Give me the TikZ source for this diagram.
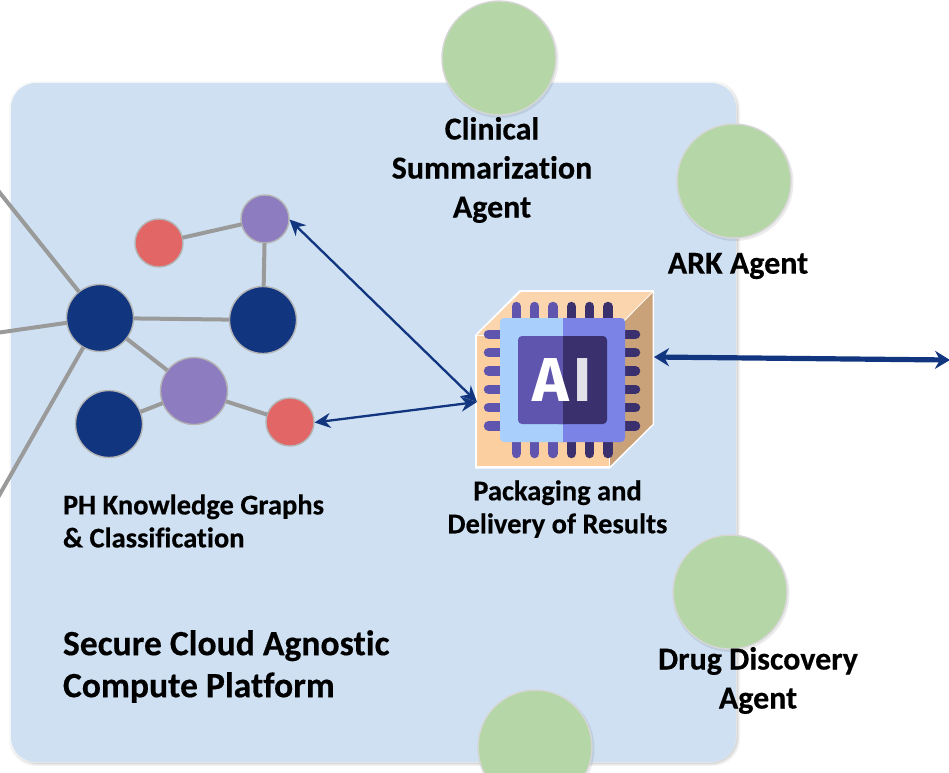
\documentclass[tikz,border=0pt]{standalone}
\usepackage{fontspec}
\setmainfont[Ligatures=NoCommon,FakeBold=0.4]{Carlito}
\newfontfamily\chipfont{Fira Sans}
\usetikzlibrary{arrows.meta,calc}
\definecolor{panelblue}{HTML}{CEE0F2}
\definecolor{agentgreen}{HTML}{B5D6A7}
\definecolor{navy}{HTML}{11357F}
\definecolor{edgegray}{HTML}{9A9A9A}
\definecolor{rimgray}{HTML}{B4B4B4}
\definecolor{lilac}{HTML}{8E7CC0}
\definecolor{coral}{HTML}{E26666}
\definecolor{pinlight}{HTML}{5F54AE}
\definecolor{pindark}{HTML}{3B306E}
\definecolor{bodylight}{HTML}{A9D0FC}
\definecolor{bodydark}{HTML}{7B83E6}
\definecolor{cubetop}{HTML}{FBD5AE}
\definecolor{cubeside}{HTML}{C9A27A}
\definecolor{cubefront}{HTML}{FBCFA0}
\tikzset{
  x=1pt,y=-1pt,
  every node/.style={inner sep=0pt,outer sep=0pt},
  agent/.style={circle,minimum size=114pt,fill=agentgreen,draw=rimgray!55,line width=1.4pt},
  graphbig/.style={circle,minimum size=67pt,draw=rimgray,line width=1.4pt},
  graphsmall/.style={circle,minimum size=48pt,draw=rimgray,line width=1.4pt},
  link/.style={draw=edgegray,line width=4pt},
  thinarrow/.style={draw=navy,line width=2.3pt,{Stealth[length=16pt,width=15pt]}-{Stealth[length=16pt,width=15pt]}},
  thickarrow/.style={draw=navy,line width=5.2pt,{Stealth[length=15pt,width=18pt]}-{Stealth[length=15pt,width=18pt]}},
  label/.style={font=\bfseries\fontsize{32}{39}\selectfont,align=center,text=black},
  smalllabel/.style={font=\bfseries\fontsize{28.5}{33}\selectfont},
  titlelabel/.style={font=\bfseries\fontsize{35.6}{42}\selectfont,align=left,text=black},
  pin/.style={line width=9.5pt,line cap=round},
}
\begin{document}
\begin{tikzpicture}
\useasboundingbox (0,0) rectangle (949,772);
\begin{scope}
\clip (0,0) rectangle (949,772);
% panel with soft rim
\foreach \o/\a in {4/0.04,3/0.05,2/0.07,1/0.09}{
  \fill[black,opacity=\a,rounded corners=27pt] (11-\o+2,83-\o+2) rectangle (736+\o,762+\o);
}
\fill[white,opacity=.55,rounded corners=27pt] (9,81) rectangle (737,763);
\node[fill=panelblue,rounded corners=25pt,minimum width=725pt,minimum height=679pt] (panel) at (373.5,422.5) {};

% agents
\foreach \cx/\cy in {499/58,734/181,730/592,535/747}{
  \fill[black,opacity=.08] (\cx+1,\cy+1.5) circle (58.5pt);
}
\node[agent] (clinical) at (499,58) {};
\node[agent] (ark) at (734,181) {};
\node[agent] (drug) at (730,592) {};
\node[agent] (fourth) at (535,747) {};

% graph nodes
\node[graphbig,fill=navy] (hub) at (100,318) {};
\node[graphbig,fill=navy] (blueb) at (263,320) {};
\node[graphbig,fill=navy] (bluec) at (109,424) {};
\node[graphbig,fill=lilac] (purpleb) at (194,391) {};
\node[graphsmall,fill=lilac] (purples) at (265,219) {};
\node[graphsmall,fill=coral] (redt) at (159,243) {};
\node[graphsmall,fill=coral] (redb) at (290,422) {};
\coordinate (outa) at (-4,188);
\coordinate (outb) at (-4,333);
\coordinate (outc) at (-8,508);
\draw[link] (hub) -- (outa);
\draw[link] (hub) -- (outb);
\draw[link] (hub) -- (outc);
\draw[link] (hub) -- (blueb);
\draw[link] (hub) -- (purpleb);
\draw[link] (bluec) -- (purpleb);
\draw[link] (purpleb) -- (redb);
\draw[link] (blueb) -- (purples);
\draw[link] (redt) -- (purples);

% chip
\fill[white] (475,335) -- (519.5,290) -- (654,290) -- (654,424.5) -- (610,468.5) -- (475,468.5) -- cycle;
\fill[cubetop] (477,335) -- (521,292) -- (652,292) -- (609,335) -- cycle;
\fill[cubeside] (610,336) -- (652.5,293) -- (652.5,424) -- (610,466) -- cycle;
\fill[cubefront] (477,336) rectangle (609,466);
\foreach \p in {0,1,2,3,4,5}{
  \pgfmathsetmacro{\xx}{516.3+18.33*\p}
  \pgfmathsetmacro{\yy}{334.3+18.33*\p}
  \ifnum\p<3 \def\pc{pinlight}\else\def\pc{pindark}\fi
  \draw[pin,\pc] (\xx,306.5) -- (\xx,320);
  \draw[pin,\pc] (\xx,440) -- (\xx,453.5);
  \draw[pin,pinlight] (488.5,\yy) -- (503,\yy);
  \draw[pin,pindark] (622,\yy) -- (635.5,\yy);
}
\fill[bodylight,rounded corners=4pt] (500,318) rectangle (570,442);
\fill[bodydark,rounded corners=4pt] (555,318) rectangle (625,442);
\fill[bodylight] (550,318) rectangle (562.5,442);
\fill[pinlight,rounded corners=4pt] (518,336) rectangle (570,424);
\fill[pindark,rounded corners=4pt] (555,336) rectangle (607,424);
\fill[pinlight] (550,336) rectangle (562.5,424);
\node[font=\chipfont\bfseries\fontsize{62}{62}\selectfont] (ailabel) at (562,380) {\textcolor{white}{A}\hspace{4pt}\textcolor{pindark!15!white}{I}};
\coordinate (chipleft) at (477,402);
\coordinate (chipright) at (654,357);
\coordinate (outright) at (950,360);
\coordinate (purpletip) at (289.5,219.5);
\coordinate (redtip) at (314.5,422.5);

% connectors
\draw[thinarrow] (purpletip) -- (chipleft);
\draw[thinarrow] (redtip) -- (chipleft);
\draw[thickarrow] (chipright) -- (outright);

% labels
\node[label] (clinicaltext) at (492,170) {Clinical\\Summarization\\Agent};
\node[label] (arktext) at (738,266) {ARK Agent};
\node[label] (drugtext) at (758,680.5) {Drug Discovery\\Agent};
\node[smalllabel,align=left,anchor=west] (phtext) at (63,521) {PH Knowledge Graphs\\\& Classification};
\node[smalllabel,align=center] (packtext) at (557.5,509) {Packaging and\\Delivery of Results};
\node[titlelabel,anchor=west] (platform) at (63,666.5) {Secure Cloud Agnostic\\Compute Platform};
\end{scope}
\end{tikzpicture}
\end{document}
